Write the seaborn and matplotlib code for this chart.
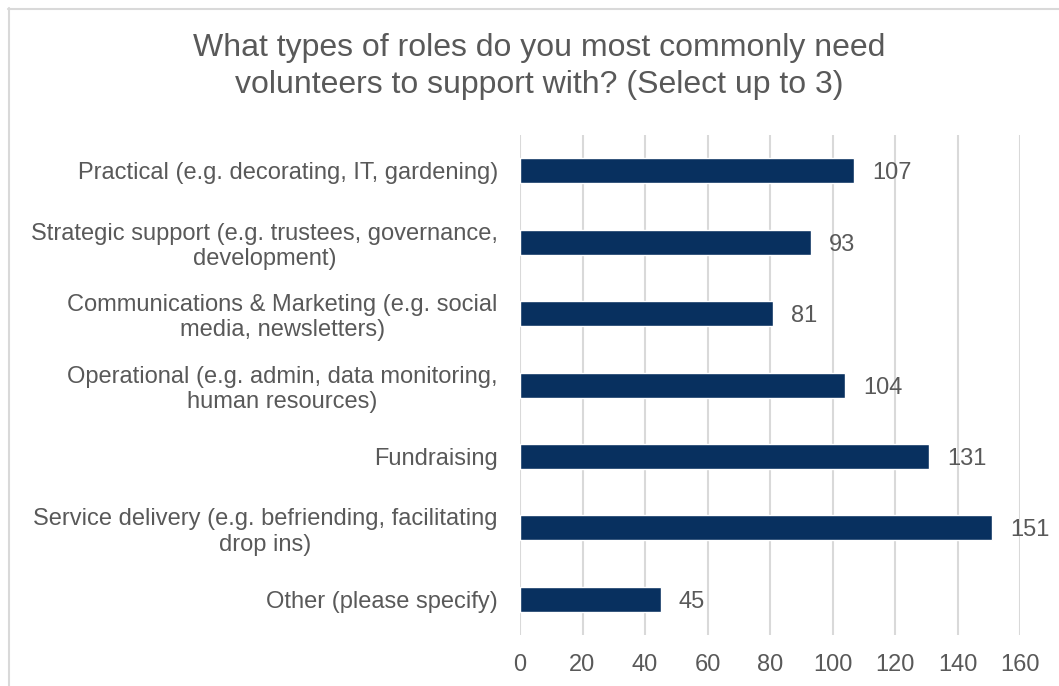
import matplotlib
matplotlib.use("Agg")
import matplotlib.pyplot as plt
from matplotlib.lines import Line2D
import seaborn as sns
import pandas as pd

categories = [
    "Practical (e.g. decorating, IT, gardening)",
    "Strategic support (e.g. trustees, governance,\ndevelopment)",
    "Communications & Marketing (e.g. social\nmedia, newsletters)",
    "Operational (e.g. admin, data monitoring,\nhuman resources)",
    "Fundraising",
    "Service delivery (e.g. befriending, facilitating\ndrop ins)",
    "Other (please specify)",
]
counts = [107, 93, 81, 104, 131, 151, 45]
x_ticks = [0, 20, 40, 60, 80, 100, 120, 140, 160]
title = "What types of roles do you most commonly need\nvolunteers to support with? (Select up to 3)"

df = pd.DataFrame({"role": categories, "count": counts})

sns.set_theme(style="white")
plt.rcParams["font.family"] = ["Liberation Sans", "DejaVu Sans"]

text_color = "#595959"
bar_color = "#08305F"
grid_color = "#D9D9D9"

fig = plt.figure(figsize=(10.59, 6.86), dpi=100)
ax = fig.add_axes([520 / 1059, 1 - 635 / 686, 500 / 1059, 500 / 686])

sns.barplot(data=df, y="role", x="count", orient="h", color=bar_color,
            width=0.35, ax=ax, saturation=1, zorder=3)

ax.set_xlim(0, 160)
ax.set_xticks(x_ticks)
ax.set_xticklabels([str(t) for t in x_ticks])
ax.set_xlabel("")
ax.set_ylabel("")
for s in ax.spines.values():
    s.set_visible(False)
ax.grid(axis="x", color=grid_color, linewidth=1.5, zorder=0)
ax.grid(axis="y", visible=False)
ax.tick_params(axis="both", length=0, labelsize=17, colors=text_color)
ax.tick_params(axis="y", pad=16)
ax.tick_params(axis="x", pad=14)
for lab in ax.get_yticklabels():
    lab.set_horizontalalignment("right")
    lab.set_multialignment("center")

for i, v in enumerate(counts):
    ax.annotate(str(v), xy=(v, i), xytext=(13, 0), textcoords="offset points",
                va="center_baseline", ha="left", fontsize=17, color=text_color)

fig.text(539 / 1059, 1 - 66.5 / 686, title, ha="center", va="center",
         fontsize=23, color=text_color, linespacing=1.3)

# Outer frame (top and left edges)
fig.add_artist(Line2D([8 / 1059, 1], [1 - 8.5 / 686, 1 - 8.5 / 686],
                      transform=fig.transFigure, color="#D9D9D9", linewidth=1.5))
fig.add_artist(Line2D([8.5 / 1059, 8.5 / 1059], [0, 1 - 8 / 686],
                      transform=fig.transFigure, color="#D9D9D9", linewidth=1.5))

fig.savefig("out.png", dpi=100)
